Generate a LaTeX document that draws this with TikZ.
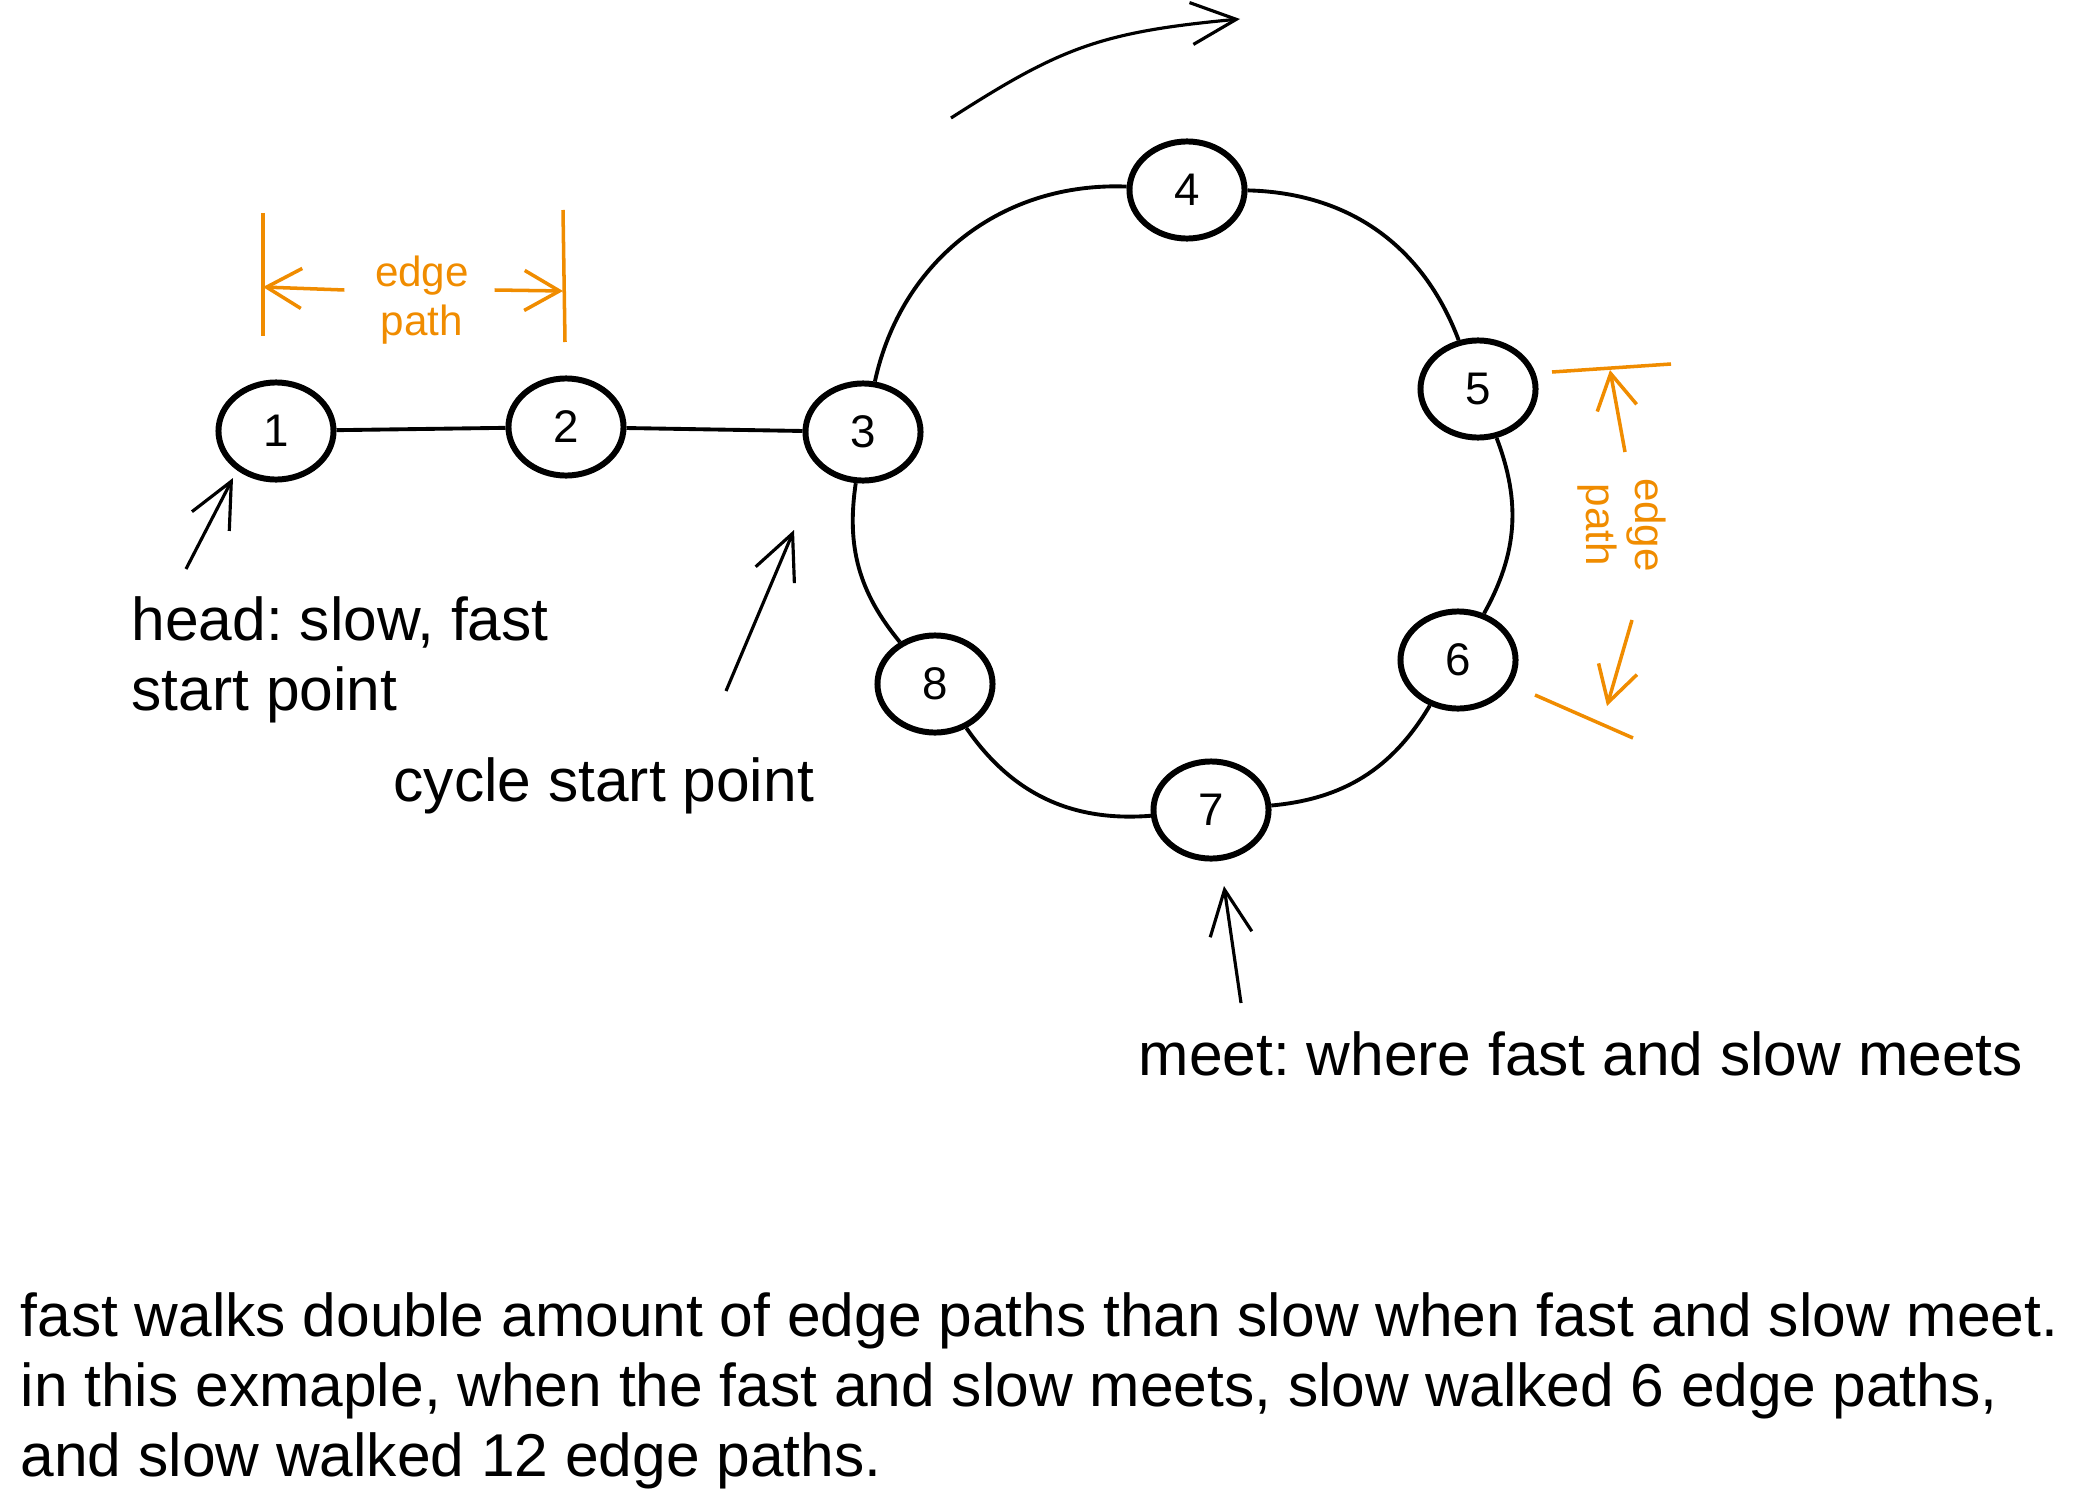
\documentclass[tikz,border=0pt]{standalone}
\usepackage{fontspec}
\setmainfont{Liberation Sans}
\usetikzlibrary{arrows.meta, shapes.geometric}
\usetikzlibrary{positioning}
\usepackage{xcolor}
\definecolor{edgeorange}{RGB}{240,140,0}
\frenchspacing

\tikzset{
  vertex/.style={ellipse, draw, line width=1.7pt, fill=white, minimum width=1.15cm, minimum height=0.97cm, inner sep=0pt, font=\fontsize{13}{15}\selectfont},
  link/.style={line width=1.1pt},
  note/.style={font=\fontsize{17.2}{20}\selectfont, align=left, inner sep=0pt},
  pointer/.style={-{Straight Barb[length=4.5mm, width=4.2mm]}, line width=0.9pt},
  measure/.style={edgeorange, line width=1pt},
  measurearrow/.style={measure, -{Straight Barb[length=3.5mm, width=4mm]}},
  measurelabel/.style={text=edgeorange, font=\fontsize{12}{14}\selectfont, align=center, inner sep=0pt},
}

\begin{document}
\begin{tikzpicture}[x=0.01cm, y=-0.01cm]
  \useasboundingbox (0,0) rectangle (2100,1497);
  % nodes
  \node[vertex] (n1) at (276,431) {1};
  \node[vertex] (n2) at (566,427) {2};
  \node[vertex] (n3) at (863,432) {3};
  \node[vertex] (n4) at (1187,190) {4};
  \node[vertex] (n5) at (1478,389) {5};
  \node[vertex] (n6) at (1458,660) {6};
  \node[vertex] (n7) at (1211,810) {7};
  \node[vertex] (n8) at (935,684) {8};
  % list before the cycle
  \draw[link] (n1) -- (n2);
  \draw[link] (n2) -- (n3);
  % cycle
  \draw[link] (n3) to[bend left=40] (n4);
  \draw[link] (n4) to[bend left=34] (n5);
  \draw[link] (n5) to[bend left=25] (n6);
  \draw[link] (n6) to[bend left=27] (n7);
  \draw[link] (n7) to[bend left=30] (n8);
  \draw[link] (n8) to[bend left=24] (n3);
  % direction of walk
  \coordinate (walkfrom) at (951,118);
  \coordinate (walkto) at (1240,19);
  \draw[pointer] (walkfrom) .. controls (1060,48) and (1100,32) .. (walkto);
  % edge path (top)
  \coordinate (tickL1) at (263,213);
  \coordinate (tickL2) at (263,336);
  \coordinate (tickR1) at (563,210);
  \coordinate (tickR2) at (565,342);
  \draw[measure] (tickL1) -- (tickL2);
  \draw[measure] (tickR1) -- (tickR2);
  \node[measurelabel] (toplabel) at (422,300) {edge\\path};
  \draw[measurearrow] (toplabel.west |- 0,290) ++(-30,0) coordinate (tipLfrom) -- (tickL1 |- 0,287);
  \draw[measurearrow] (toplabel.east |- 0,290) ++(25,0) coordinate (tipRfrom) -- (tickR1 |- 0,291);
  % edge path (right)
  \coordinate (barT1) at (1552,372);
  \coordinate (barT2) at (1671,364);
  \coordinate (barB1) at (1535,695);
  \coordinate (barB2) at (1633,738);
  \draw[measure] (barT1) -- (barT2);
  \draw[measure] (barB1) -- (barB2);
  \node[measurelabel, rotate=-90] (sidelabel) at (1622,525) {edge\\path};
  \coordinate (upfrom) at (1625,452);
  \coordinate (upto) at (1610,370);
  \coordinate (downfrom) at (1632,620);
  \coordinate (downto) at (1607,706);
  \draw[measurearrow] (upfrom) -- (upto);
  \draw[measurearrow] (downfrom) -- (downto);
  % labels and pointers
  \node[note, anchor=west] (headnote) at (131,660) {head: slow, fast\\start point};
  \node[note, anchor=west] (cyclenote) at (393,786) {cycle start point};
  \node[note, anchor=west] (meetnote) at (1138,1054) {meet: where fast and slow meets};
  \coordinate (headfrom) at (186,569);
  \coordinate (headto) at (233,478);
  \coordinate (cyclefrom) at (726,691);
  \coordinate (cycleto) at (794,530);
  \coordinate (meetfrom) at (1241,1003);
  \coordinate (meetto) at (1224,886);
  \draw[pointer] (headfrom) -- (headto);
  \draw[pointer] (cyclefrom) -- (cycleto);
  \draw[pointer] (meetfrom) -- (meetto);
  % summary
  \node[note, anchor=west] (summary) at (20,1391) {fast walks double amount of edge paths than slow when fast and slow meet.\\in this exmaple, when the fast and slow meets, slow walked 6 edge paths,\\and slow walked 12 edge paths.};
\end{tikzpicture}
\end{document}
